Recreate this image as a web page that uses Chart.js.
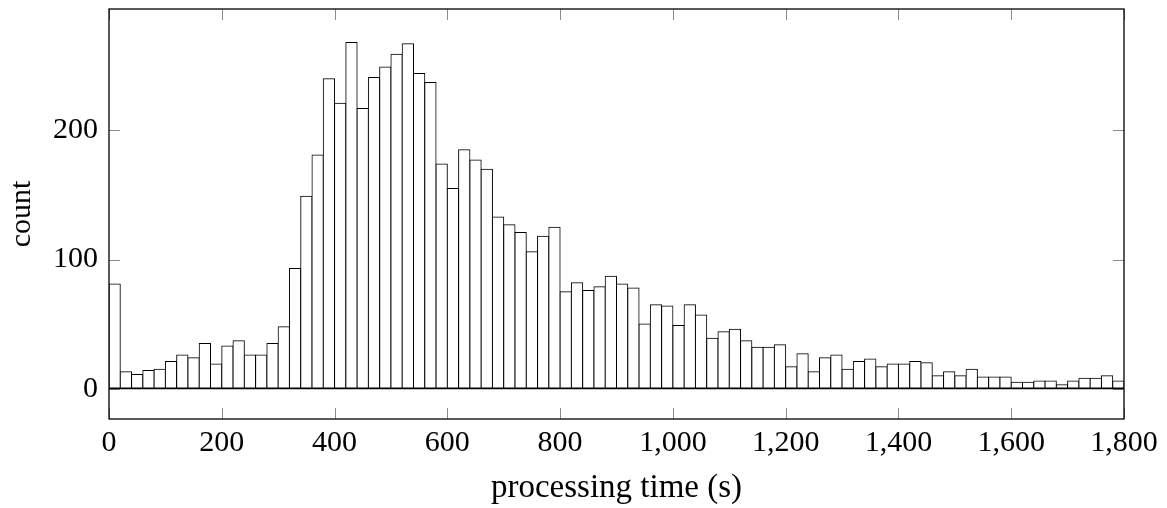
<!DOCTYPE html>
<html>
<head>
<meta charset="utf-8">
<title>processing time histogram</title>
<script src="https://cdn.jsdelivr.net/npm/chart.js@4.4.0/dist/chart.umd.min.js"></script>
<style>
  html, body { margin: 0; padding: 0; background: #fff; }
</style>
</head>
<body>
<canvas id="myChart" width="1167" height="508"></canvas>
<script>
// histogram bins: 20 s wide, 0 .. 1800 s
const binWidth = 20;
const counts = [
    81, 13, 11, 14, 15, 21, 26, 24, 35, 19,
    33, 37, 26, 26, 35, 48, 93, 149, 181, 240,
    221, 268, 217, 241, 249, 259, 267, 244, 237, 174,
    155, 185, 177, 170, 133, 127, 121, 106, 118, 125,
    75, 82, 76, 79, 87, 81, 78, 50, 65, 64,
    49, 65, 57, 39, 44, 46, 37, 32, 32, 34,
    17, 27, 13, 24, 26, 15, 21, 23, 17, 19,
    19, 21, 20, 10, 13, 10, 15, 9, 9, 9,
    5, 5, 6, 6, 3, 6, 8, 8, 10, 6
];
const xTicks = [0, 200, 400, 600, 800, 1000, 1200, 1400, 1600, 1800];
const yTicks = [0, 100, 200];
const xTitle = 'processing time (s)';
const yTitle = 'count';

const serif = "'Liberation Serif', 'DejaVu Serif', serif";
Chart.defaults.color = '#000';
Chart.defaults.font.family = serif;

// pgfplots style: frame round the plot, ticks pointing inwards on all sides
const framePlugin = {
    id: 'frame',
    afterDraw: (chart) => {
        const { ctx, chartArea: a, scales } = chart;
        const len = 11;
        ctx.save();
        ctx.strokeStyle = 'rgba(0,0,0,0.45)';
        ctx.lineWidth = 1;
        ctx.beginPath();
        scales.x.ticks.forEach((t) => {
            const px = Math.round(scales.x.getPixelForValue(t.value)) + 0.5;
            ctx.moveTo(px, a.bottom); ctx.lineTo(px, a.bottom - len);
            ctx.moveTo(px, a.top); ctx.lineTo(px, a.top + len);
        });
        scales.y.ticks.forEach((t) => {
            const py = Math.round(scales.y.getPixelForValue(t.value)) + 0.5;
            ctx.moveTo(a.left, py); ctx.lineTo(a.left + len, py);
            ctx.moveTo(a.right, py); ctx.lineTo(a.right - len, py);
        });
        ctx.stroke();
        ctx.strokeStyle = '#000';
        ctx.lineWidth = 1.3;
        ctx.strokeRect(a.left, a.top, a.right - a.left, a.bottom - a.top);
        ctx.restore();
    },
};

new Chart(document.getElementById('myChart').getContext('2d'), {
    type: 'bar',
    data: {
        datasets: [
            {
                data: counts.map((c, i) => ({ x: i * binWidth + binWidth / 2, y: c })),
                backgroundColor: '#fff',
                borderColor: '#000',
                borderWidth: 1,
                borderSkipped: false,
                inflateAmount: 0.5,
                barPercentage: 1,
                categoryPercentage: 1,
            },
        ],
    },
    options: {
        responsive: false,
        animation: false,
        layout: {
            padding: { top: 9, right: 43, bottom: 0, left: 0 },
        },
        plugins: {
            legend: { display: false },
            tooltip: { enabled: false },
        },
        scales: {
            x: {
                type: 'linear',
                min: 0,
                max: 1800,
                offset: false,
                grid: { display: false, offset: false },
                border: { display: false },
                afterBuildTicks: (s) => { s.ticks = xTicks.map((v) => ({ value: v })); },
                afterFit: (s) => { s.height = 89; },
                ticks: {
                    padding: -2,
                    maxRotation: 0,
                    font: { size: 30 },
                    callback: (v) => v.toLocaleString('en-US'),
                },
                title: {
                    display: true,
                    text: xTitle,
                    font: { size: 33, lineHeight: 1.2 },
                    padding: { top: 0, bottom: 0 },
                },
            },
            y: {
                min: -23.5,
                max: 294,
                border: { display: false },
                grid: {
                    drawTicks: false,
                    lineWidth: 1.3,
                    color: (c) => (c.tick && c.tick.value === 0 ? '#000' : 'rgba(0,0,0,0)'),
                },
                afterBuildTicks: (s) => { s.ticks = yTicks.map((v) => ({ value: v })); },
                afterFit: (s) => { s.width = 109; s.paddingTop = 0; s.paddingBottom = 0; },
                ticks: {
                    padding: 11,
                    font: { size: 30 },
                },
                title: {
                    display: true,
                    text: yTitle,
                    font: { size: 30, lineHeight: 1.2 },
                    padding: { top: 4, bottom: 0 },
                },
            },
        },
    },
    plugins: [framePlugin],
});
</script>
</body>
</html>
